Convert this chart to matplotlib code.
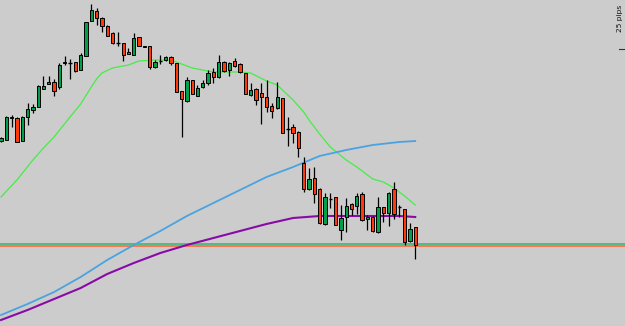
import matplotlib
matplotlib.use("Agg")
import matplotlib.pyplot as plt

# candle data (open, high, low, close), one per bar
opens = [259, 260, 282, 282, 259, 283, 290, 293, 311, 316, 318, 313, 337, 337, 338, 330,
         344, 379, 389, 382, 374, 367, 357, 357, 348, 345, 363, 354, 354, 333, 339, 340,
         343, 337, 309, 299, 320, 304, 313, 317, 328, 323, 338, 330, 339, 336, 327, 305,
         311, 307, 303, 294, 292, 302, 271, 273, 268, 237, 211, 222, 211, 176, 201, 203,
         170, 183, 196, 194, 206, 181, 183, 168, 193, 187, 211, 193, 191, 159, 173]
highs = [263, 284, 285, 283, 284, 297, 296, 315, 324, 324, 321, 337, 344, 341, 338, 347,
         378, 396, 392, 383, 375, 368, 368, 357, 352, 367, 363, 354, 354, 340, 345, 344,
         344, 337, 309, 323, 320, 315, 320, 330, 332, 345, 339, 338, 342, 337, 327, 317,
         312, 317, 320, 297, 318, 302, 283, 276, 269, 243, 232, 233, 212, 207, 207, 203,
         195, 202, 197, 207, 208, 185, 184, 203, 193, 208, 218, 195, 191, 177, 173]
lows = [258, 260, 273, 258, 259, 275, 287, 293, 311, 316, 304, 311, 335, 321, 328, 330,
        344, 379, 375, 368, 364, 356, 354, 339, 346, 345, 354, 353, 331, 332, 336, 339,
        335, 308, 263, 298, 306, 304, 312, 315, 317, 322, 328, 324, 333, 327, 306, 304,
        295, 276, 288, 282, 291, 267, 254, 257, 243, 208, 210, 197, 176, 175, 192, 175,
        160, 168, 185, 186, 179, 170, 168, 167, 178, 174, 181, 183, 155, 158, 141]
closes = [262, 283, 283, 258, 283, 291, 293, 314, 314, 318, 309, 335, 338, 337, 329, 345,
          378, 390, 382, 374, 364, 357, 357, 345, 346, 362, 354, 353, 333, 338, 339, 343,
          337, 308, 301, 320, 306, 312, 317, 327, 323, 338, 329, 337, 334, 328, 306, 310,
          300, 303, 293, 289, 303, 267, 271, 267, 252, 211, 221, 206, 177, 203, 201, 175,
          182, 194, 191, 204, 180, 183, 169, 193, 187, 207, 186, 193, 158, 171, 155]

fast_idx = [0, 3, 6, 8, 10, 13, 15, 17, 18, 19, 21, 24, 26, 29, 32, 34, 36, 38, 40, 45,
            47, 50, 52, 55, 57, 58, 60, 62, 65, 67, 70, 72, 74, 76, 78]
fast_ma = [203, 220, 240, 252, 263, 283, 296, 313, 321, 327, 332, 335, 339, 340, 340, 336,
           332, 330, 328, 328, 327, 319, 315, 300, 288, 280, 266, 253, 240, 233, 221, 218,
           212, 204, 195]
slow_idx = [0, 5, 10, 15, 20, 25, 30, 35, 40, 45, 50, 55, 60, 65, 70, 75, 78]
mid_ma = [85, 96, 108, 123, 140, 155, 169, 184, 197, 210, 223, 233, 244, 250, 255, 258, 259]
long_ma = [80, 90, 101, 112, 126, 137, 147, 155, 162, 169, 176, 182, 184, 184, 184, 184, 183]

# horizontal levels
level_green = 156
level_orange = 154

bg = "#cccccc"
fig = plt.figure(figsize=(6.25, 3.26), dpi=100, facecolor=bg)
ax = fig.add_axes([0, 0, 1, 1], facecolor=bg)

idx = list(range(len(opens)))

# horizontal lines across the whole chart
ax.axhline(level_green, color="#3cb878", lw=1.2, zorder=1)
ax.axhline(level_orange, color="#ff6a3d", lw=1.2, zorder=1)

# moving averages
ax.plot(fast_idx, fast_ma, color="#44ee44", lw=0.9, zorder=2)
ax.plot(slow_idx, mid_ma, color="#4aa3e0", lw=1.3, zorder=2)
ax.plot(slow_idx, long_ma, color="#8a0aa8", lw=1.5, zorder=2)

# wicks
ax.vlines(idx, lows, highs, color="black", lw=0.9, zorder=3)

# bodies
for i in idx:
    o, c = opens[i], closes[i]
    if o == c:
        ax.hlines(o, i - 0.33, i + 0.33, color="black", lw=1.0, zorder=4)
        continue
    col = "#00a04a" if c > o else "#ff3a0a"
    ax.bar(i, c - o, bottom=o, width=0.62, color=col, edgecolor="black", linewidth=0.7, zorder=4)

# pips scale label at the right
ax.text(0.9915, 0.985, "25 pips", rotation=90, ha="center", va="top", fontsize=5.4,
        color="#111111", transform=ax.transAxes)
ax.plot([0.991, 1.0], [0.85, 0.85], color="#333333", lw=0.8, transform=ax.transAxes)

ax.set_xlim(-0.19, 117.5)
ax.set_ylim(74, 400)
ax.axis("off")

fig.savefig("out.png", dpi=100, facecolor=bg)
